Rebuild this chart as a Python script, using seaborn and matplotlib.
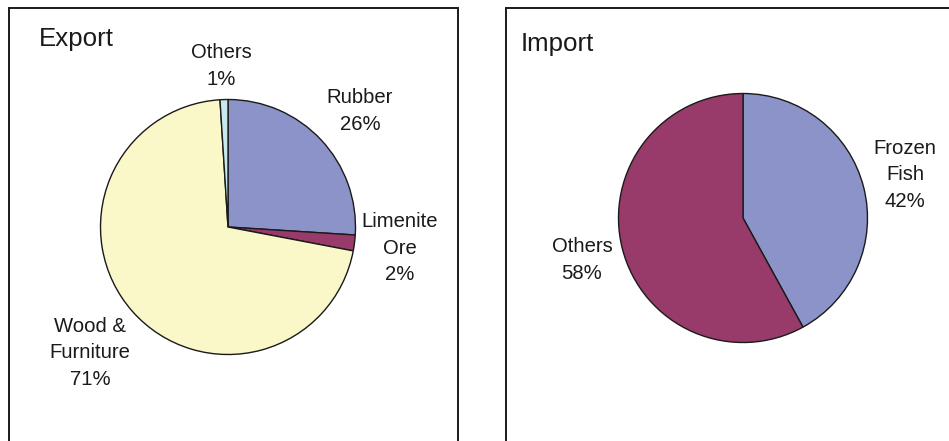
import matplotlib
matplotlib.use("Agg")
import matplotlib.pyplot as plt
from matplotlib.patches import Rectangle
import seaborn as sns

# Export shares (%), clockwise from 12 o'clock
export_labels = ["Rubber", "Limenite\nOre", "Wood &\nFurniture", "Others"]
export_values = [26, 2, 71, 1]
export_colors = ["#8C93C8", "#983B6B", "#FAF7C8", "#C8E9EF"]

# Import shares (%)
import_labels = ["Frozen\nFish", "Others"]
import_values = [42, 58]
import_colors = ["#8C93C8", "#983B6B"]

sns.set_theme(style="white")
plt.rcParams["font.family"] = ["Liberation Sans", "DejaVu Sans"]

W, H = 949, 441
fig = plt.figure(figsize=(W / 100, H / 100), dpi=100)
ax = fig.add_axes([0, 0, 1, 1])


def py(y):
    # pixel-from-top to axis y
    return H - y


wedge_style = dict(edgecolor="#1a1a1a", linewidth=1.0)

ax.pie(export_values, colors=export_colors, startangle=90, counterclock=False,
       center=(228, py(227)), radius=127.5, wedgeprops=wedge_style, frame=True)
ax.pie(import_values, colors=import_colors, startangle=90, counterclock=False,
       center=(743, py(218)), radius=124.5, wedgeprops=wedge_style, frame=True)
ax.set_xlim(0, W)
ax.set_ylim(0, H)
ax.set_aspect("equal")
ax.axis("off")

# panel frames (open at the bottom edge of the figure)
for x0, x1, top in [(9, 458, 8), (506, 960, 7.5)]:
    ax.add_patch(Rectangle((x0, -20), x1 - x0, py(top) + 20, fill=False,
                           edgecolor="#1a1a1a", linewidth=1.4, zorder=1))

label_kw = dict(fontsize=14.6, color="#1a1a1a", ha="center", va="center",
                linespacing=1.5)

# label anchor points (centre of each text block)
export_pos = [(360, 111), (400, 248), (90, 353), (221, 66)]
import_pos = [(905, 175), (582, 260)]

for name, val, (x, y) in zip(export_labels, export_values, export_pos):
    ax.text(x, py(y), f"{name}\n{val}%", **label_kw)
for name, val, (x, y) in zip(import_labels, import_values, import_pos):
    ax.text(x, py(y), f"{name}\n{val}%", **label_kw)

ax.text(39, py(39), "Export", fontsize=18.6, color="#1a1a1a",
        ha="left", va="center")
ax.text(521, py(44), "Import", fontsize=18.6, color="#1a1a1a",
        ha="left", va="center")

fig.savefig("out.png", dpi=100, facecolor="white")
